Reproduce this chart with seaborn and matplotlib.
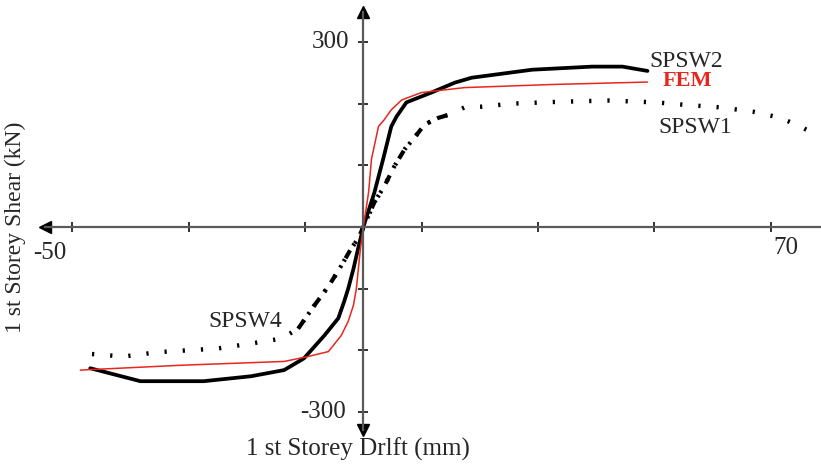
import matplotlib
matplotlib.use("Agg")
import matplotlib.pyplot as plt
import seaborn as sns

# storey drift (mm) vs storey shear (kN)
spsw2_x = [-46.9, -38.3, -27.4, -19.3, -13.6, -10.2, -6.7, -4.3, -3.3, -2.6, -1.7, -0.9, 0.0,
           1.9, 3.4, 4.8, 5.7, 7.4, 11.7, 15.7, 18.6, 29.0, 39.3, 44.5, 48.8]
spsw2_y = [-229, -250, -250, -242, -232, -213, -176, -148, -121, -100, -68, -35, 0,
           56, 110, 163, 179, 202, 218, 234, 242, 255, 260, 260, 253]

fem_x = [-48.6, -30.9, -13.6, -9.5, -6.0, -3.8, -2.6, -1.7, -1.2, -0.5, 0.0,
         0.9, 1.4, 2.6, 3.6, 4.8, 6.6, 10.0, 17.4, 32.4, 48.8]
fem_y = [-232, -224, -218, -210, -202, -176, -153, -127, -100, -35, 0,
         56, 110, 163, 174, 190, 206, 218, 226, 231, 235]

spsw1_x = [-46.6, -41.2, -35.3, -30.2, -25.0, -19.3, -14.1, -11.2, -8.4, -5.9, -3.8, -2.1, -0.9, 0.0,
           1.9, 3.6, 5.3, 7.1, 8.8, 10.5, 12.9, 14.7, 17.4, 20.3, 25.5, 33.6, 42.2, 50.2,
           55.3, 61.2, 66.9, 71.6, 74.3, 76.7]
spsw1_y = [-206, -210, -203, -200, -197, -189, -181, -165, -127, -95, -63, -35, -19, 0,
           40, 66, 98, 126, 145, 166, 177, 182, 194, 195, 200, 203, 205, 202,
           198, 194, 187, 177, 166, 155]

spsw4_x = [-11.2, -8.4, -5.9, -3.8, -2.1, -0.9, 0.0, 1.9, 3.6, 5.3, 7.1, 8.8, 10.5, 12.9, 14.7]
spsw4_y = [-165, -127, -95, -63, -35, -19, 0, 40, 66, 98, 126, 145, 166, 177, 182]

x_ticks = [-50, -30, -10, 10, 30, 50, 70]
y_ticks = [-300, -200, -100, 100, 200, 300]

sns.set_style("white")
plt.rcParams['font.family'] = ['Liberation Serif', 'DejaVu Serif']

fig = plt.figure(figsize=(8.21, 4.66), dpi=100)
ax = fig.add_axes([0, 0, 1, 1])
ax.set_xlim(-62.4, 78.6)
ax.set_ylim(-387.5, 368)

axis_col = "#5a5a5a"
for side in ["top", "right"]:
    ax.spines[side].set_visible(False)
ax.spines["left"].set_position("zero")
ax.spines["bottom"].set_position("zero")
ax.spines["left"].set_bounds(-329, 348)
ax.spines["bottom"].set_bounds(-54.6, 78.6)
for side in ["left", "bottom"]:
    ax.spines[side].set_color(axis_col)
    ax.spines[side].set_linewidth(1.6)
ax.set_xticks(x_ticks)
ax.set_yticks(y_ticks)
ax.tick_params(bottom=True, left=True, direction="inout", length=7, width=1.4,
               color="#333333", labelbottom=False, labelleft=False)

# arrow heads
ax.plot([-54.6], [0], marker="<", color="black", markersize=8, clip_on=False)
ax.plot([0], [348], marker="^", color="black", markersize=8, clip_on=False)
ax.plot([0], [-329], marker="v", color="black", markersize=8, clip_on=False)

sns.lineplot(x=spsw1_x, y=spsw1_y, sort=False, estimator=None, ax=ax, color="black",
             linewidth=3.2, linestyle=(0, (0.5, 3.6)))
sns.lineplot(x=spsw4_x, y=spsw4_y, sort=False, estimator=None, ax=ax, color="black",
             linewidth=3.0, linestyle=(0, (2.2, 2.0, 0.6, 2.0)))
sns.lineplot(x=spsw2_x, y=spsw2_y, sort=False, estimator=None, ax=ax, color="black",
             linewidth=2.7)
sns.lineplot(x=fem_x, y=fem_y, sort=False, estimator=None, ax=ax, color="#e8261e",
             linewidth=1.1)

fs = 17
ax.text(-2.5, 300, "300", fontsize=18, ha="right", va="center")
ax.text(-3.0, -300, "-300", fontsize=18, ha="right", va="center")
ax.text(-51.0, -42, "-50", fontsize=18, ha="right", va="center")
ax.text(72.5, -34, "70", fontsize=18, ha="center", va="center")

ax.text(49.2, 268, "SPSW2", fontsize=fs, ha="left", va="center")
ax.text(51.4, 236, "FEM", fontsize=16, ha="left", va="center", color="#e8261e",
        fontweight="bold")
ax.text(50.6, 162, "SPSW1", fontsize=fs, ha="left", va="center")
ax.text(-26.6, -153, "SPSW4", fontsize=fs, ha="left", va="center")

ax.text(-1.0, -361, "1 st Storey Drlft (mm)", fontsize=18, ha="center", va="center")
ax.text(-59.8, 0, "1 st Storey Shear (kN)", fontsize=17, ha="center", va="center",
        rotation=90)

ax.set_xlabel("")
ax.set_ylabel("")
fig.savefig("out.png", dpi=100)
